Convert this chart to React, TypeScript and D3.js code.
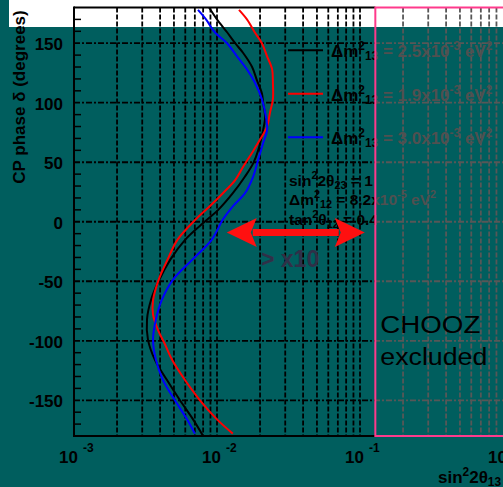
import React, { useRef, useEffect } from "react";
import * as d3 from "d3";

// CP phase δ (degrees) vs sin²2θ13
const deltaBlack = [180, 170, 159, 150, 142, 130, 119, 108, 100, 88, 77, 60, 49, 38, 24, 10, 0, -15, -32, -50, -66, -82, -99, -116, -133, -150, -166, -180];
const sinBlack = [0.0088, 0.01, 0.0118, 0.0134, 0.0152, 0.0176, 0.019, 0.0206, 0.021, 0.0217, 0.021, 0.0194, 0.0179, 0.0157, 0.0129, 0.0102, 0.0082, 0.006, 0.0047, 0.0039, 0.00345, 0.00324, 0.00329, 0.00368, 0.00447, 0.00551, 0.0068, 0.008];

const deltaRed = [178, 170, 159, 150, 139, 128, 117, 103, 92, 80, 69, 58, 46, 35, 24, 13, 2, -15, -32, -49, -66, -78, -91, -103, -116, -133, -150, -166, -178];
const sinRed = [0.01425, 0.0162, 0.0184, 0.0206, 0.0224, 0.0243, 0.0246, 0.0246, 0.0235, 0.0224, 0.02, 0.0176, 0.0152, 0.0134, 0.011, 0.0089, 0.0071, 0.0053, 0.0045, 0.0039, 0.00357, 0.00357, 0.00387, 0.00433, 0.00485, 0.00597, 0.0076, 0.01, 0.0129];

const deltaBlue = [178, 170, 159, 150, 139, 128, 117, 103, 88, 77, 66, 52, 38, 24, 13, 2, -15, -32, -49, -66, -82, -99, -116, -133, -150, -166, -178];
const sinBlue = [0.00736, 0.00838, 0.00968, 0.01175, 0.0138, 0.0162, 0.0184, 0.0206, 0.022, 0.0224, 0.021, 0.0194, 0.0179, 0.0157, 0.0129, 0.011, 0.0092, 0.0067, 0.0049, 0.0041, 0.00374, 0.00357, 0.00374, 0.00419, 0.00508, 0.00617, 0.007];

const legendValues = ["2.5", "1.9", "3.0"];
const yTicks = [-150, -100, -50, 0, 50, 100, 150];
const xDecades = [1e-3, 1e-2, 1e-1, 1];
const xExponents = ["-3", "-2", "-1", "0"];

// annotations
const choozLimit = 0.128;
const arrowFrom = 0.0117;
const arrowTo = 0.108;
const arrowDelta = -9;

const FONT = "Liberation Sans, Arial, sans-serif";
const TEAL = "#005e5e";

// segments: [text, 0 normal | 1 superscript | -1 subscript]
function richText(g, x, y, segs, size, fill) {
  const t = g
    .append("text")
    .attr("x", x)
    .attr("y", y)
    .attr("font-family", FONT)
    .attr("font-weight", "bold")
    .attr("font-size", size)
    .attr("fill", fill);
  let shift = 0;
  segs.forEach(([s, k]) => {
    const target = k === 1 ? -size * 0.42 : k === -1 ? size * 0.18 : 0;
    t.append("tspan")
      .attr("dy", target - shift)
      .attr("font-size", k ? size * 0.7 : size)
      .text(s);
    shift = target;
  });
  return t;
}

const App = () => {
  const svgRef = useRef(null);

  useEffect(() => {
    const svg = d3.select(svgRef.current);
    svg.selectAll("*").remove();

    const width = 503;
    const height = 487;
    const top = 7.5;
    const bottom = 436;
    const left = 74;

    const x = d3.scaleLog().domain([1e-3, 1]).range([left, width]);
    const y = d3.scaleLinear().domain([-180, 180]).range([bottom, top]);
    const boxX = x(choozLimit);

    // backdrop: white strip on top, teal slide below
    svg.append("rect").attr("width", width).attr("height", height).attr("fill", "white");
    svg.append("rect").attr("y", 27).attr("width", width).attr("height", height - 27).attr("fill", TEAL);
    svg.append("rect").attr("width", 9).attr("height", 27).attr("fill", TEAL);

    const defs = svg.append("defs");
    defs.append("clipPath").attr("id", "clipL").append("rect")
      .attr("x", 0).attr("y", 0).attr("width", boxX).attr("height", height);
    defs.append("clipPath").attr("id", "clipR").append("rect")
      .attr("x", boxX).attr("y", 0).attr("width", width - boxX).attr("height", height);

    const gridX = [];
    [-3, -2, -1].forEach((d) => {
      for (let k = 1; k <= 9; k++) {
        if (d === -3 && k === 1) continue;
        gridX.push(k * Math.pow(10, d));
      }
    });

    // grid, black outside the CHOOZ box and greyed inside it
    const drawGrid = (g, color) => {
      g.selectAll(".vgrid")
        .data(gridX)
        .join("line")
        .attr("x1", (d) => x(d))
        .attr("x2", (d) => x(d))
        .attr("y1", top)
        .attr("y2", bottom)
        .attr("stroke", color)
        .attr("stroke-width", 1.8)
        .attr("stroke-dasharray", "5 2");

      g.selectAll(".hgrid")
        .data(yTicks)
        .join("line")
        .attr("x1", left)
        .attr("x2", width)
        .attr("y1", (d) => y(d))
        .attr("y2", (d) => y(d))
        .attr("stroke", color)
        .attr("stroke-width", 1.8)
        .attr("stroke-dasharray", "6 2 2 2");
    };
    drawGrid(svg.append("g").attr("clip-path", "url(#clipL)"), "black");
    drawGrid(svg.append("g").attr("clip-path", "url(#clipR)"), "#575757");

    // left axis minor ticks
    const minor = d3.range(-170, 180, 10).filter((d) => d % 50 !== 0);
    svg.selectAll(".ytick")
      .data(minor)
      .join("line")
      .attr("x1", left)
      .attr("x2", left + 7)
      .attr("y1", (d) => y(d))
      .attr("y2", (d) => y(d))
      .attr("stroke", "black")
      .attr("stroke-width", 1.5);

    // curves
    const line = d3
      .line()
      .x((d) => x(d[1]))
      .y((d) => y(d[0]))
      .curve(d3.curveCatmullRom);
    const series = [
      [deltaBlack, sinBlack, "black"],
      [deltaRed, sinRed, "#ff0000"],
      [deltaBlue, sinBlue, "#0000ff"],
    ];
    series.forEach(([ds, ss, c]) => {
      svg.append("path")
        .datum(ds.map((d, i) => [d, ss[i]]))
        .attr("fill", "none")
        .attr("stroke", c)
        .attr("stroke-width", 2)
        .attr("d", line);
    });

    // legend lines
    series.forEach(([, , c], i) => {
      svg.append("line")
        .attr("x1", 288)
        .attr("x2", 323)
        .attr("y1", y(150) + 7 + i * 43.5)
        .attr("y2", y(150) + 7 + i * 43.5)
        .attr("stroke", c)
        .attr("stroke-width", 2);
    });

    // texts, black left of the CHOOZ box, greyed inside it
    const textL = svg.append("g").attr("clip-path", "url(#clipL)");
    const textR = svg.append("g").attr("clip-path", "url(#clipR)");
    [[textL, "black"], [textR, "#505050"]].forEach(([g, c]) => {
      legendValues.forEach((v, i) => {
        richText(g, 331, y(150) + 14 + i * 43.5,
          [["Δm", 0], ["2", 1], ["13", -1], [" = " + v + "x10", 0], ["-3", 1], [" eV", 0], ["2", 1]],
          17, c);
      });
      richText(g, 289, 186, [["sin", 0], ["2", 1], ["2θ", 0], ["23", -1], [" = 1", 0]], 15.5, c);
      richText(g, 289, 205, [["Δm", 0], ["2", 1], ["12", -1], [" = 8.2x10", 0], ["-5", 1], [" eV", 0], ["2", 1]], 15.5, c);
      richText(g, 289, 225, [["tan", 0], ["2", 1], ["θ", 0], ["12", -1], [" = 0.4", 0]], 15.5, c);
    });

    // double arrow "> x10"
    const ax1 = x(arrowFrom);
    const ax2 = x(arrowTo);
    const ay = y(arrowDelta);
    const headL = 30;
    const headH = 14.5;
    svg.append("line")
      .attr("x1", ax1 + headL - 4)
      .attr("x2", ax2 - headL + 4)
      .attr("y1", ay)
      .attr("y2", ay)
      .attr("stroke", "#ff1010")
      .attr("stroke-width", 7);
    svg.append("path")
      .attr("d", `M${ax1},${ay} L${ax1 + headL},${ay - headH} L${ax1 + headL - 6},${ay} L${ax1 + headL},${ay + headH} Z`)
      .attr("fill", "#ff1010");
    svg.append("path")
      .attr("d", `M${ax2},${ay} L${ax2 - headL},${ay - headH} L${ax2 - headL + 6},${ay} L${ax2 - headL},${ay + headH} Z`)
      .attr("fill", "#ff1010");
    svg.append("text")
      .attr("x", 261)
      .attr("y", 267)
      .attr("font-family", FONT)
      .attr("font-weight", "bold")
      .attr("font-size", 23)
      .attr("fill", "#303048")
      .text("> x10");

    // frame
    svg.append("line").attr("x1", left).attr("x2", left).attr("y1", top - 1).attr("y2", bottom + 1)
      .attr("stroke", "black").attr("stroke-width", 2);
    svg.append("line").attr("x1", left).attr("x2", boxX).attr("y1", bottom).attr("y2", bottom)
      .attr("stroke", "black").attr("stroke-width", 2);
    svg.append("line").attr("x1", left).attr("x2", boxX).attr("y1", top).attr("y2", top)
      .attr("stroke", "black").attr("stroke-width", 2);

    // CHOOZ excluded region
    svg.append("rect")
      .attr("x", boxX)
      .attr("y", top)
      .attr("width", width - boxX + 20)
      .attr("height", bottom - top)
      .attr("fill", "none")
      .attr("stroke", "#ff3a8c")
      .attr("stroke-width", 2);
    ["CHOOZ", "excluded"].forEach((s, i) => {
      svg.append("text")
        .attr("x", boxX + 5)
        .attr("y", 333 + i * 32)
        .attr("font-family", FONT)
        .attr("font-size", 23)
        .attr("textLength", i === 0 ? 100 : 107)
        .attr("lengthAdjust", "spacingAndGlyphs")
        .attr("fill", "black")
        .text(s);
    });

    // y tick labels
    yTicks.forEach((t) => {
      svg.append("text")
        .attr("x", 63)
        .attr("y", y(t) + 7)
        .attr("text-anchor", "end")
        .attr("font-family", FONT)
        .attr("font-weight", "bold")
        .attr("font-size", 17)
        .text(t);
    });

    // x tick labels 10^n
    xDecades.forEach((d, i) => {
      const px = x(d);
      svg.append("text")
        .attr("x", px + 4)
        .attr("y", 463)
        .attr("text-anchor", "end")
        .attr("font-family", FONT)
        .attr("font-weight", "bold")
        .attr("font-size", 17)
        .text("10");
      svg.append("text")
        .attr("x", px + 9)
        .attr("y", 452)
        .attr("font-family", FONT)
        .attr("font-weight", "bold")
        .attr("font-size", 12)
        .text(xExponents[i]);
    });

    // axis titles
    richText(svg, 438, 483, [["sin", 0], ["2", 1], ["2θ", 0], ["13", -1]], 17, "black");
    svg.append("text")
      .attr("transform", `translate(25,${97}) rotate(-90)`)
      .attr("text-anchor", "middle")
      .attr("font-family", FONT)
      .attr("font-weight", "bold")
      .attr("font-size", 17)
      .text("CP phase δ (degrees)");
  }, []);

  return (
    <>
      <style>{`body{margin:0;overflow:hidden}`}</style>
      <svg ref={svgRef} width={503} height={487} style={{ display: "block" }}></svg>
    </>
  );
};

export default App;
